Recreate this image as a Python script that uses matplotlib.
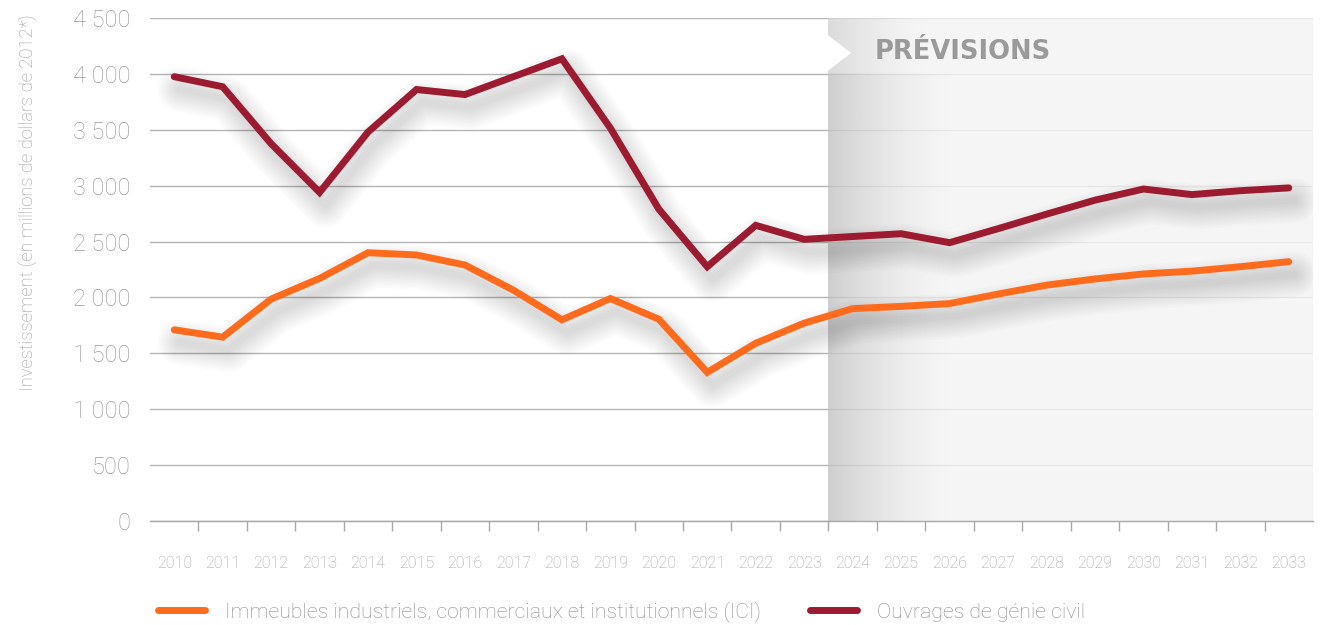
import numpy as np
import matplotlib
matplotlib.use("Agg")
import matplotlib.pyplot as plt
import matplotlib.transforms as mtransforms
from matplotlib.lines import Line2D
from matplotlib.patches import Polygon

# ---------------- data ----------------
years = [str(y) for y in range(2010, 2034)]
ici = [1710, 1645, 1985, 2170, 2400, 2380, 2290, 2065, 1800, 1990, 1805, 1330,
       1590, 1770, 1900, 1920, 1945, 2030, 2110, 2165, 2210, 2235, 2275, 2320]
genie = [3975, 3885, 3375, 2940, 3480, 3860, 3815, 3975, 4135, 3515, 2790, 2275,
         2645, 2520, 2545, 2570, 2490, 2615, 2745, 2870, 2970, 2920, 2955, 2980]
forecast_start = "2024"
series_labels = ["Immeubles industriels, commerciaux et institutionnels (ICI)",
                 "Ouvrages de génie civil"]
yticks = [0, 500, 1000, 1500, 2000, 2500, 3000, 3500, 4000, 4500]
ytick_labels = ["0", "500", "1 000", "1 500", "2 000", "2 500", "3 000", "3 500", "4 000", "4 500"]
ylabel = "Investissement (en millions de dollars de 2012*)"
forecast_label = "PRÉVISIONS"

c_ici = "#FF6B1C"
c_gen = "#9C1B31"
font = "Roboto"

W, H = 1332, 625
fig = plt.figure(figsize=(W / 100, H / 100), dpi=100)
ax = fig.add_axes([150 / W, 1 - 521 / H, (1313 - 150) / W, (521 - 18) / H])

x = np.arange(len(years))
n = len(years)
ax.set_xlim(-0.5, n - 0.5)
ax.set_ylim(0, 4500)

# ---- forecast shading ----
fs = years.index(forecast_start) - 0.5
xe = n - 0.5
cols = np.linspace(0, xe - fs, 600)
g_body = 0.955 - 0.19 * np.clip(1 - cols / 2.6, 0, 1) ** 1.6
g_head = 0.955 - 0.13 * np.clip(1 - cols / 2.2, 0, 1) ** 1.6
def rgba(g, a):
    img = np.zeros((1, len(g), 4))
    img[0, :, 0] = g
    img[0, :, 1] = g
    img[0, :, 2] = g
    img[0, :, 3] = a
    return img
ax.imshow(rgba(g_body, 0.8), extent=[fs, xe, 0, 4000], aspect="auto",
          interpolation="bilinear", zorder=1)
ax.imshow(rgba(g_head, 0.8), extent=[fs, xe, 4000, 4500], aspect="auto",
          interpolation="bilinear", zorder=1)
# chevron notch
notch = Polygon([[fs - 0.02, 4350], [fs + 0.47, 4187], [fs - 0.02, 4025]],
                closed=True, facecolor="white", edgecolor="none", zorder=1.5)
ax.add_patch(notch)
ax.text(fs + 0.96, 4195, forecast_label, fontsize=18.5, fontweight="bold",
        family="DejaVu Sans", color="#9a9a9a", va="center", ha="left", zorder=2)

ax.set_xlim(-0.5, n - 0.5)
ax.set_ylim(0, 4500)

# ---- grid ----
ax.set_yticks(yticks)
ax.set_yticklabels(ytick_labels)
ax.yaxis.grid(True, color="#b5b5b5", lw=1.0, zorder=0)
ax.set_axisbelow(True)

# ---- shadows ----
for vals in (genie, ici):
    for k in range(9):
        tr = ax.transData + mtransforms.ScaledTranslation(4 / 72, -9 / 72, fig.dpi_scale_trans)
        ax.plot(x, vals, color="black", alpha=0.016, lw=5 + 3.4 * k, transform=tr,
                solid_capstyle="round", solid_joinstyle="round", zorder=3)

# ---- lines ----
ax.plot(x, genie, color=c_gen, lw=5, solid_capstyle="round", solid_joinstyle="miter", zorder=4)
ax.plot(x, ici, color=c_ici, lw=5, solid_capstyle="round", solid_joinstyle="miter", zorder=4)

# ---- axes styling ----
for s in ("top", "right", "left"):
    ax.spines[s].set_visible(False)
ax.spines["bottom"].set_color("#a8a8a8")
ax.spines["bottom"].set_linewidth(1.0)
ax.spines["bottom"].set_zorder(2)

ax.set_xticks(x)
ax.set_xticklabels(years)
ax.set_xticks(np.arange(0.5, n - 1, 1.0), minor=True)
ax.tick_params(axis="x", which="major", length=0, pad=25, labelsize=11.5,
               labelcolor="#a0a0a0")
ax.tick_params(axis="x", which="minor", length=7.5, width=1, color="#a8a8a8")
ax.tick_params(axis="y", length=0, pad=14, labelsize=17, labelcolor="#9a9a9a")
for lab in ax.get_xticklabels() + ax.get_yticklabels():
    lab.set_family(font)
    lab.set_fontweight("light")

fig.text(28 / W, 1 - 203 / H, ylabel, rotation=90, ha="center", va="center",
         fontsize=13.2, color="#9a9a9a", family=font, fontweight="light")

# ---- legend ----
handles = [Line2D([], [], color=c_ici, lw=5, solid_capstyle="round"),
           Line2D([], [], color=c_gen, lw=5, solid_capstyle="round")]
leg = fig.legend(handles, series_labels, loc="center left",
                 bbox_to_anchor=(158 / W, 1 - 612 / H), ncol=2, frameon=False,
                 handlelength=2.2, handletextpad=0.95, columnspacing=2.3,
                 borderpad=0, borderaxespad=0,
                 prop={"family": font, "weight": "light", "size": 15.3})
for t in leg.get_texts():
    t.set_color("#8a8a8a")

fig.savefig("out.png", dpi=100)
